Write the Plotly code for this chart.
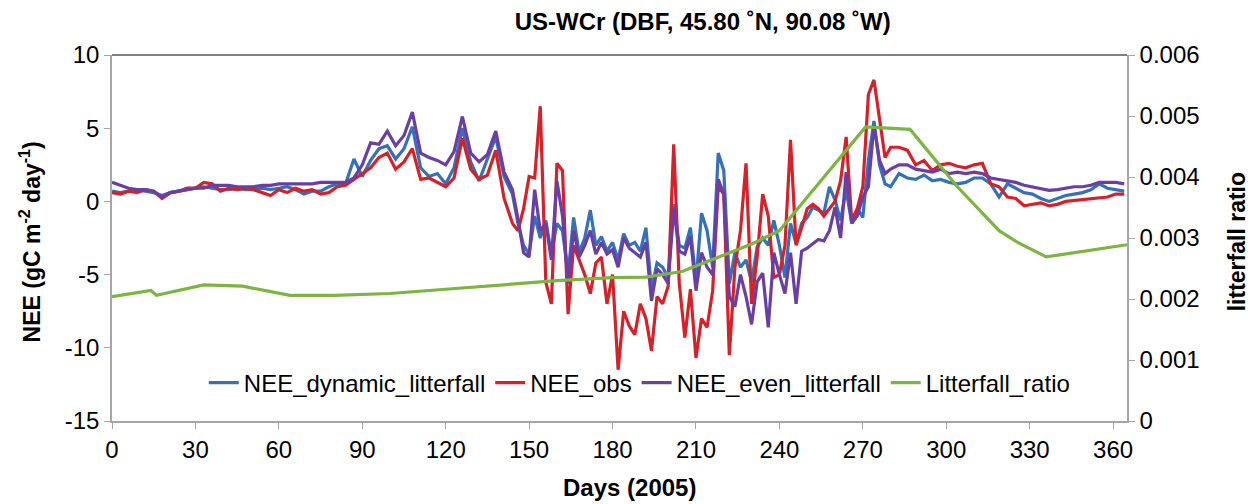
import plotly.graph_objects as go

# ---- data ----
days = [0, 3, 6, 9, 12, 15, 18, 21, 24, 27, 30, 33, 36, 39, 42, 45, 48, 51, 54, 57,
        60, 63, 66, 69, 72, 75, 78, 81, 84, 87, 90, 93, 96, 99, 102, 105, 108, 111, 114, 117,
        120, 123, 126, 129, 132, 135, 138, 141, 144,
        146, 148, 150, 152, 154, 156, 158, 160, 162, 164, 166, 168, 170, 172, 174, 176, 178, 180,
        182, 184, 186, 188, 190, 192, 194, 196, 198, 200, 202, 204, 206, 208, 210, 212, 214, 216,
        218, 220, 222, 224, 226, 228, 230, 232, 234, 236, 238, 240, 242, 244, 246, 248, 250, 252,
        254, 256, 258, 260, 262, 264, 266, 268, 270, 272, 274, 276, 278, 280,
        283, 286, 289, 292, 295, 298, 301, 304, 307, 310, 313, 316, 319, 322, 325, 328, 331, 334,
        337, 340, 343, 346, 349, 352, 355, 358, 361, 364]

nee_obs = [0.6, 0.5, 0.7, 0.6, 0.8, 0.7, 0.2, 0.6, 0.7, 0.9, 0.9, 1.3, 1.2, 0.7, 0.9, 0.8, 0.9, 0.8, 0.6, 0.4,
           0.8, 0.6, 0.9, 0.7, 0.8, 0.5, 0.6, 1.0, 1.1, 1.5, 1.9, 2.3, 3.0, 3.3, 2.2, 2.7, 3.6, 1.5, 1.6, 1.3,
           1.0, 1.6, 4.3, 2.2, 1.5, 1.8, 3.5, 0.2, -1.5,
           -2.0, -0.5, 1.7, 1.6, 6.5, -5.5, -7.0, 2.6, 2.1, -7.7, -3.0, -4.0, -5.0, -6.3, -4.2, -3.8, -7.0, -5.0,
           -11.5, -7.5, -8.5, -9.1, -7.0, -8.0, -10.2, -6.5, -7.0, -5.8, 3.9, -5.6, -9.3, -6.0, -10.7, -8.0, -8.6, -6.1,
           1.0, 0.5, -10.5, -4.5, -2.0, 2.6, -7.0, -3.8, 0.5, -1.0, -5.2, -5.0, -3.0, 4.2, -3.0, -1.8, -0.5, -0.2,
           -0.5, -1.0, -0.5, 0.0, 1.4, 4.4, -1.3, -0.5, 1.0, 7.3, 8.3, 5.8, 3.0, 3.7,
           3.7, 3.5, 2.5, 2.8, 2.1, 2.5, 2.6, 2.4, 2.3, 2.5, 2.6, 1.2, 1.0, 0.3, 0.2, -0.3, -0.2, -0.1,
           -0.3, -0.2, 0.0, 0.05, 0.1, 0.2, 0.2, 0.3, 0.5, 0.5]

nee_dynamic = [0.7, 0.6, 0.7, 0.8, 0.7, 0.6, 0.4, 0.6, 0.7, 0.8, 0.9, 1.0, 0.9, 0.8, 0.8, 0.9, 0.8, 0.8, 0.9, 0.8,
               0.9, 1.0, 0.8, 0.5, 0.7, 0.7, 1.0, 1.2, 1.2, 2.9, 1.7, 2.8, 3.6, 3.8, 2.9, 3.6, 5.1, 2.3, 1.7, 1.9,
               1.2, 2.3, 5.0, 2.7, 1.4, 2.9, 4.4, 1.7, 0.5,
               -1.5, -3.0, -3.6, -1.0, -2.5, -1.3, -3.6, -1.5, -2.0, -5.0, -1.1, -3.5, -2.5, -0.6, -3.0, -2.4, -3.4, -2.8,
               -4.0, -2.2, -3.0, -2.8, -3.4, -1.8, -6.0, -4.2, -4.5, -5.2, -0.2, -3.0, -3.2, -1.8, -5.5, -0.8, -2.0, -4.5,
               3.3, 2.1, -5.6, -3.5, -4.5, -4.0, -5.5, -3.1, -2.5, -3.0, -1.3, -3.0, -5.2, -1.5, -2.9, -1.5, -1.1, -0.4,
               -0.6, -0.8, 1.0, 0.1, -1.3, 0.8, -1.5, -0.5, -1.1, 2.8, 5.5, 2.5, 1.2, 1.0,
               1.9, 1.6, 1.5, 1.8, 1.4, 1.5, 1.3, 1.2, 1.3, 1.6, 1.6, 1.2, 0.3, 1.2, 0.9, 0.6, 0.5, 0.2,
               0.0, 0.2, 0.4, 0.5, 0.6, 0.8, 1.2, 0.9, 0.8, 0.7]

nee_even = [1.3, 1.1, 0.9, 0.8, 0.8, 0.7, 0.3, 0.6, 0.7, 0.8, 0.9, 0.9, 1.1, 1.1, 1.1, 1.0, 1.0, 1.0, 1.1, 1.1,
            1.2, 1.2, 1.2, 1.2, 1.2, 1.3, 1.3, 1.3, 1.3, 1.6, 2.5, 4.0, 3.9, 4.8, 3.8, 4.5, 6.1, 3.3, 3.0, 2.8,
            2.5, 3.4, 5.8, 3.3, 2.7, 3.2, 4.8, 2.0, 0.8,
            -1.2, -3.5, -3.8, 0.8, -2.0, -1.5, -4.0, 1.4, -1.0, -5.6, -2.0, -3.8, -3.0, -2.0, -3.6, -2.8, -3.6, -3.3,
            -4.5, -2.5, -3.2, -3.5, -3.8, -2.8, -6.8, -4.6, -5.0, -5.6, -0.5, -3.4, -3.6, -2.4, -6.1, -3.5, -4.5, -5.0,
            1.5, 0.5, -6.5, -7.2, -5.0, -6.5, -8.4, -5.5, -4.9, -8.6, -3.5, -5.0, -6.3, -3.5, -7.0, -3.4, -3.2, -2.9,
            -2.6, -2.7, -2.0, -0.4, -2.5, 2.0, -1.5, -1.0, 0.3, 1.0, 5.2, 2.8, 1.9, 2.2,
            2.5, 2.5, 2.2, 2.1, 2.0, 2.2, 1.9, 2.0, 1.9, 2.0, 1.9, 1.6, 1.5, 1.4, 1.3, 1.1, 1.0, 0.9,
            0.75, 0.8, 0.9, 1.0, 1.0, 1.1, 1.3, 1.3, 1.3, 1.2]

ratio_days = [0, 14, 16, 33, 47, 64, 80, 100, 120, 140, 160, 180, 192, 205, 218, 230, 240,
              271, 287, 304, 319, 326, 336, 365]
litterfall_ratio = [0.00204, 0.00214, 0.00206, 0.00223, 0.00221, 0.00206, 0.00206, 0.00209,
                    0.00216, 0.00223, 0.00230, 0.00235, 0.00236, 0.00245, 0.00269, 0.00290,
                    0.00312, 0.00482, 0.00478, 0.00384, 0.00312, 0.00292, 0.00269, 0.00289]

x_ticks = [0, 30, 60, 90, 120, 150, 180, 210, 240, 270, 300, 330, 360]
y_ticks = [-15, -10, -5, 0, 5, 10]
y_ticklabels = ["-15", "-10", "-5", "0", "5", "10"]
y2_ticks = [0, 0.001, 0.002, 0.003, 0.004, 0.005, 0.006]
y2_ticklabels = ["0", "0.001", "0.002", "0.003", "0.004", "0.005", "0.006"]

# ---- styles ----
C_BLUE = "#3570B8"
C_RED = "#D3222A"
C_PURPLE = "#6A3FA4"
C_GREEN = "#7DB443"
FONT = "Liberation Sans, Arial, sans-serif"
LW = 3.2

fig = go.Figure()
fig.add_trace(go.Scatter(x=days, y=nee_dynamic, name="NEE_dynamic_litterfall", mode="lines",
                         line=dict(color=C_BLUE, width=LW)))
fig.add_trace(go.Scatter(x=days, y=nee_obs, name="NEE_obs", mode="lines",
                         line=dict(color=C_RED, width=LW)))
fig.add_trace(go.Scatter(x=days, y=nee_even, name="NEE_even_litterfall", mode="lines",
                         line=dict(color=C_PURPLE, width=LW)))
fig.add_trace(go.Scatter(x=ratio_days, y=litterfall_ratio, name="Litterfall_ratio", mode="lines",
                         line=dict(color=C_GREEN, width=LW), yaxis="y2"))

axis_common = dict(showgrid=False, zeroline=False, showline=True, linecolor="#A6A6A6", linewidth=1.5,
                   ticks="outside", tickcolor="#A6A6A6", ticklen=6,
                   tickfont=dict(family=FONT, size=24, color="#000"))

fig.update_layout(
    width=1250, height=504,
    paper_bgcolor="white", plot_bgcolor="white",
    margin=dict(l=112, r=123, t=55, b=83, autoexpand=False),
    font=dict(family=FONT, color="#000"),
    title=dict(text="<b>US-WCr (DBF, 45.80 ˚N, 90.08 ˚W)</b>", font=dict(family=FONT, size=24, color="#000"),
               x=0.582, xref="paper", xanchor="center", y=0.958, yref="container", yanchor="middle"),
    xaxis=dict(range=[0, 365], tickvals=x_ticks, **axis_common),
    yaxis=dict(range=[-15, 10], tickvals=y_ticks, ticktext=y_ticklabels, **axis_common),
    yaxis2=dict(range=[0, 0.006], tickvals=y2_ticks, ticktext=y2_ticklabels,
                overlaying="y", side="right", **axis_common),
    legend=dict(orientation="h", x=0.52, xanchor="center", y=0.104, yanchor="middle",
                font=dict(family=FONT, size=24, color="#000"), bgcolor="rgba(0,0,0,0)",
                itemwidth=30, tracegroupgap=0),
    showlegend=True,
)

# top border of plot area
fig.add_shape(type="line", xref="paper", yref="paper", x0=0, x1=1, y0=1, y1=1,
              line=dict(color="#808080", width=2))

# axis titles
fig.add_annotation(text="<b>NEE (gC m<sup>-2</sup> day<sup>-1</sup>)</b>", xref="paper", yref="paper",
                   x=-0.081, y=0.49, xanchor="center", yanchor="middle", textangle=-90, showarrow=False,
                   font=dict(family=FONT, size=23, color="#000"))
fig.add_annotation(text="<b>litterfall ratio</b>", xref="paper", yref="paper",
                   x=1.108, y=0.49, xanchor="center", yanchor="middle", textangle=-90, showarrow=False,
                   font=dict(family=FONT, size=23, color="#000"))
fig.add_annotation(text="<b>Days (2005)</b>", xref="paper", yref="paper",
                   x=0.51, y=-0.183, xanchor="center", yanchor="middle", showarrow=False,
                   font=dict(family=FONT, size=24, color="#000"))

fig.write_html("out.html", config={"displayModeBar": False},
               post_script="document.body.style.margin='0';document.documentElement.style.overflow='hidden';")
